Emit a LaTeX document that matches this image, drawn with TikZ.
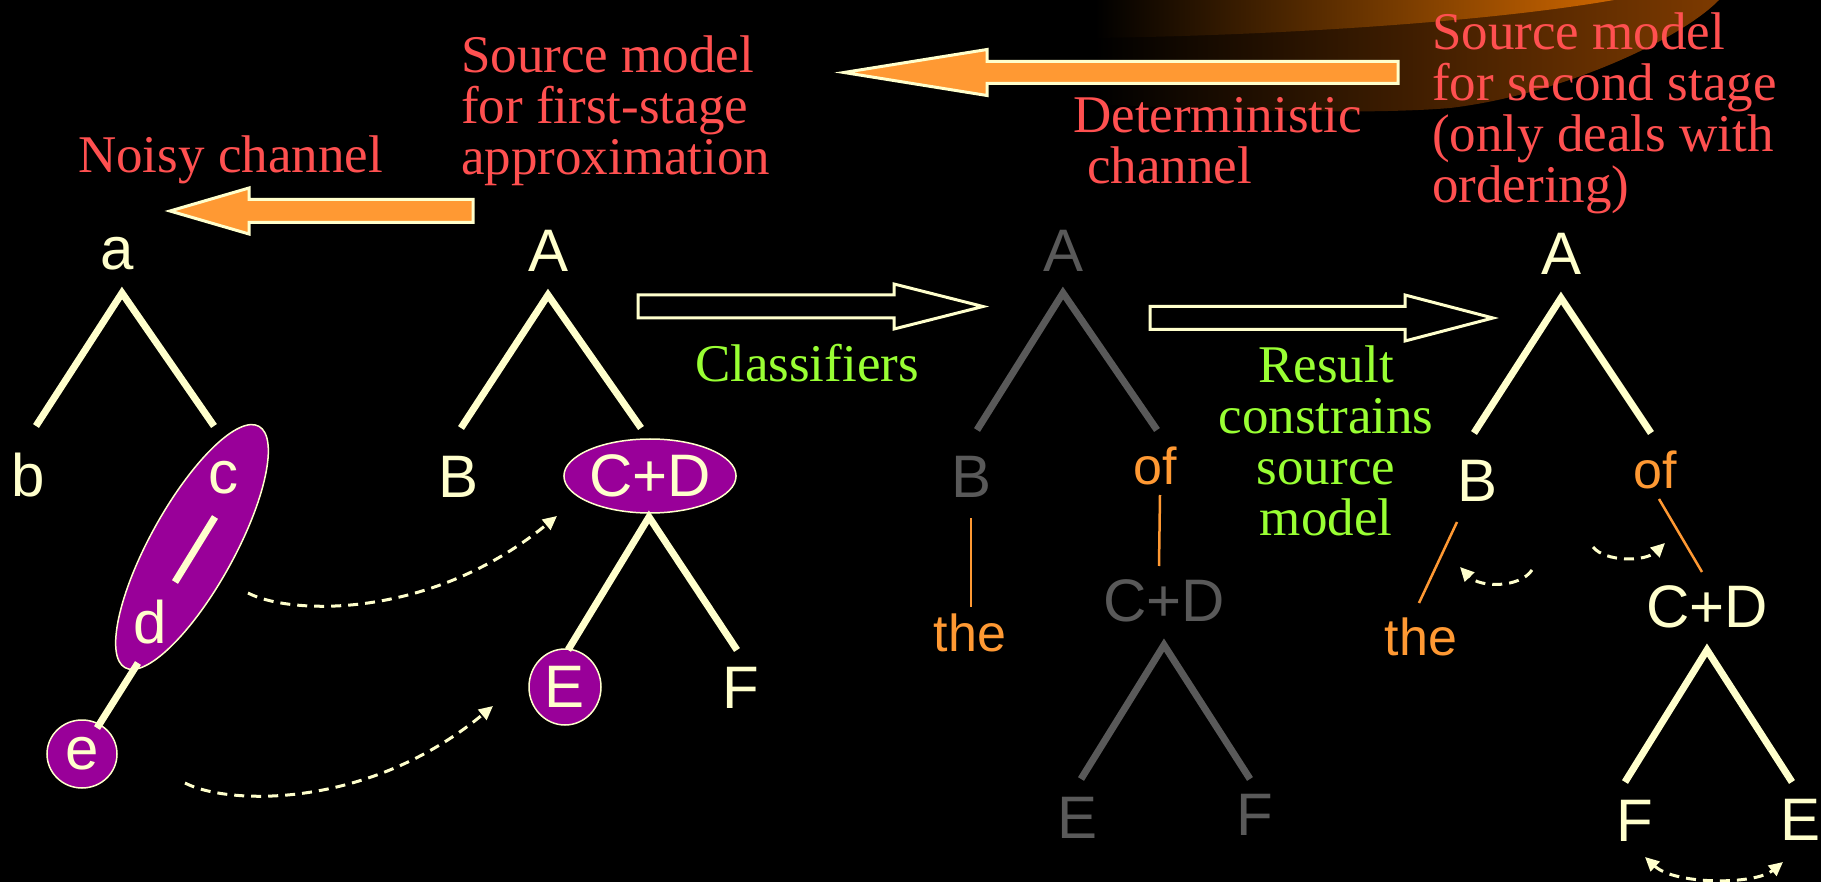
\documentclass[tikz,border=0pt]{standalone}
\usepackage{fontspec}
\setmainfont{Liberation Serif}
\setsansfont{Liberation Sans}
\usetikzlibrary{arrows.meta,shapes.geometric}

\definecolor{cream}{RGB}{255,255,204}
\definecolor{salmon}{RGB}{255,80,80}
\definecolor{leaf}{RGB}{153,255,51}
\definecolor{amber}{RGB}{255,153,51}
\definecolor{plum}{RGB}{153,0,153}
\definecolor{ash}{RGB}{89,89,89}
\definecolor{glowhi}{RGB}{205,102,0}
\definecolor{glowlo}{RGB}{125,58,0}

\tikzset{
  caption/.style={font=\fontsize{53}{51}\selectfont, inner sep=0pt},
  lbl/.style={font=\sffamily\fontsize{60}{60}\selectfont, inner sep=0pt, text=cream},
  word/.style={font=\sffamily\fontsize{52}{52}\selectfont, inner sep=0pt, text=amber},
  branch/.style={line width=7pt, draw=cream, line join=miter},
  link/.style={line width=2.5pt, draw=amber},
  bubble/.style={ellipse, draw=cream, line width=1.5pt, fill=plum, inner sep=0pt},
  fatarrow/.style={fill=amber, draw=cream, line width=3pt},
  hollowarrow/.style={fill=black, draw=cream, line width=3pt},
  hint/.style={draw=cream, line width=3pt, dash pattern=on 10pt off 7pt, -{Triangle[length=14pt,width=13pt]}},
}

\begin{document}
\begin{tikzpicture}[x=1pt,y=-1pt]
  \useasboundingbox (0,0) rectangle (1821,882);
  \fill[black] (0,0) rectangle (1821,882);

  % glow in the upper right corner
  \shade[left color=black, right color=glowlo] (1095,0) -- (1095,104) .. controls (1250,112) and (1380,114) .. (1450,108) .. controls (1560,95) and (1680,40) .. (1719,0) -- cycle;
  \shade[left color=black, right color=glowhi] (1095,0) -- (1095,38) .. controls (1300,35) and (1500,20) .. (1614,0) -- cycle;

  % block arrows
  \draw[fatarrow] (1398,61.5) -- (987,61.5) -- (987,49.5) -- (844,72.5) -- (987,95.5) -- (987,83.5) -- (1398,83.5) -- cycle;
  \draw[fatarrow] (473,199.5) -- (249,199.5) -- (249,188) -- (170,211) -- (249,234) -- (249,222.5) -- (473,222.5) -- cycle;
  \draw[hollowarrow] (638,295) -- (894,295) -- (894,284) -- (983,306.5) -- (894,329) -- (894,318) -- (638,318) -- cycle;
  \draw[hollowarrow] (1150,306.5) -- (1405,306.5) -- (1405,295) -- (1493,318) -- (1405,341) -- (1405,329.5) -- (1150,329.5) -- cycle;

  % captions
  \node[caption, text=salmon, anchor=base west] (noisy) at (78,173) {Noisy channel};
  \node[caption, text=salmon, anchor=north west, align=left] (srcone) at (461,36) {Source model\\for first-stage\\approximation};
  \node[caption, text=salmon, anchor=north west, align=left] (determ) at (1073,97) {Deterministic\\\hspace*{14pt}channel};
  \node[caption, text=salmon, anchor=north west, align=left] (srctwo) at (1432,13) {Source model\\for second stage\\(only deals with\\ordering)};
  \node[caption, text=leaf, anchor=base] (classif) at (807,382) {Classifiers};
  \node[caption, text=leaf, anchor=north, align=center] (result) at (1326,346) {Result\\constrains\\source\\model};

  % tree 1: a b c d e
  \node[bubble, minimum width=276pt, minimum height=84pt, rotate=61] (cd1) at (192,547) {};
  \node[bubble, lbl, minimum width=70pt, minimum height=68pt] (e1) at (82,754) {e};
  \node[lbl] (a1) at (117,254) {a};
  \node[lbl] (b1) at (28,475) {b};
  \node[lbl] (c1) at (223,478) {c};
  \node[lbl] (d1) at (150,622) {d};
  \coordinate (a1top) at (122,293);
  \coordinate (a1left) at (36,426);
  \coordinate (a1right) at (214,426);
  \coordinate (c1foot) at (215,517);
  \coordinate (d1head) at (175,582);
  \coordinate (d1foot) at (138,663);
  \coordinate (e1head) at (97,728);
  \draw[branch] (a1left) -- (a1top) -- (a1right);
  \draw[branch] (c1foot) -- (d1head);
  \draw[branch] (d1foot) -- (e1head);

  % tree 2: A B C+D E F
  \node[lbl] (A2) at (549,251) {A};
  \node[lbl] (B2) at (459,477) {B};
  \node[bubble, lbl, minimum width=154pt, minimum height=74pt] (CD2) at (650,476) {C+D};
  \node[bubble, lbl, minimum width=72pt, minimum height=76pt] (E2) at (565,687) {E};
  \node[lbl] (F2) at (741,688) {F};
  \coordinate (A2top) at (548,295);
  \coordinate (A2left) at (461,428);
  \coordinate (A2right) at (641,428);
  \coordinate (CD2top) at (649,517);
  \coordinate (CD2left) at (568,650);
  \coordinate (CD2right) at (737,650);
  \draw[branch] (A2left) -- (A2top) -- (A2right);
  \draw[branch] (CD2left) -- (CD2top) -- (CD2right);

  % dashed hints from tree 1 to tree 2
  \coordinate (h1from) at (248,593);
  \coordinate (h1to) at (557,516);
  \coordinate (h2from) at (185,783);
  \coordinate (h2to) at (493,706);
  \draw[hint] (h1from) .. controls (290,615) and (430,620) .. (h1to);
  \draw[hint] (h2from) .. controls (227,805) and (367,810) .. (h2to);

  % tree 3, greyed out
  \node[lbl, text=ash] (A3) at (1063,251) {A};
  \node[lbl, text=ash] (B3) at (971,477) {B};
  \node[word] (of3) at (1155,466) {of};
  \node[word] (the3) at (970,633) {the};
  \node[lbl, text=ash] (CD3) at (1164,601) {C+D};
  \node[lbl, text=ash] (E3) at (1077,818) {E};
  \node[lbl, text=ash] (F3) at (1255,815) {F};
  \coordinate (A3top) at (1063,293);
  \coordinate (A3left) at (977,430);
  \coordinate (A3right) at (1157,430);
  \coordinate (CD3top) at (1164,645);
  \coordinate (CD3left) at (1081,779);
  \coordinate (CD3right) at (1250,779);
  \coordinate (B3foot) at (971,518);
  \coordinate (the3head) at (971,607);
  \coordinate (of3foot) at (1160,495);
  \coordinate (CD3head) at (1159,566);
  \draw[branch, draw=ash] (A3left) -- (A3top) -- (A3right);
  \draw[branch, draw=ash] (CD3left) -- (CD3top) -- (CD3right);
  \draw[link] (B3foot) -- (the3head);
  \draw[link] (of3foot) -- (CD3head);

  % tree 4, reordered
  \node[lbl] (A4) at (1561,254) {A};
  \node[lbl] (B4) at (1477,481) {B};
  \node[word] (of4) at (1655,470) {of};
  \node[word] (the4) at (1421,637) {the};
  \node[lbl] (CD4) at (1707,607) {C+D};
  \node[lbl] (F4) at (1635,821) {F};
  \node[lbl] (E4) at (1800,820) {E};
  \coordinate (A4top) at (1561,298);
  \coordinate (A4left) at (1474,433);
  \coordinate (A4right) at (1651,433);
  \coordinate (CD4top) at (1707,650);
  \coordinate (CD4left) at (1625,782);
  \coordinate (CD4right) at (1792,782);
  \coordinate (B4foot) at (1457,522);
  \coordinate (the4head) at (1419,603);
  \coordinate (of4foot) at (1659,499);
  \coordinate (CD4head) at (1702,572);
  \draw[branch] (A4left) -- (A4top) -- (A4right);
  \draw[branch] (CD4left) -- (CD4top) -- (CD4right);
  \draw[link] (B4foot) -- (the4head);
  \draw[link] (of4foot) -- (CD4head);
  \coordinate (h3from) at (1532,570);
  \coordinate (h3to) at (1460,567);
  \coordinate (h4from) at (1593,547);
  \coordinate (h4to) at (1665,543);
  \coordinate (h5from) at (1645,857);
  \coordinate (h5to) at (1783,862);
  \draw[hint] (h3from) .. controls (1520,588) and (1480,588) .. (h3to);
  \draw[hint] (h4from) .. controls (1605,562) and (1645,562) .. (h4to);
  \draw[hint, {Triangle[length=14pt,width=13pt]}-{Triangle[length=14pt,width=13pt]}] (h5from) .. controls (1675,885) and (1755,885) .. (h5to);
\end{tikzpicture}
\end{document}
